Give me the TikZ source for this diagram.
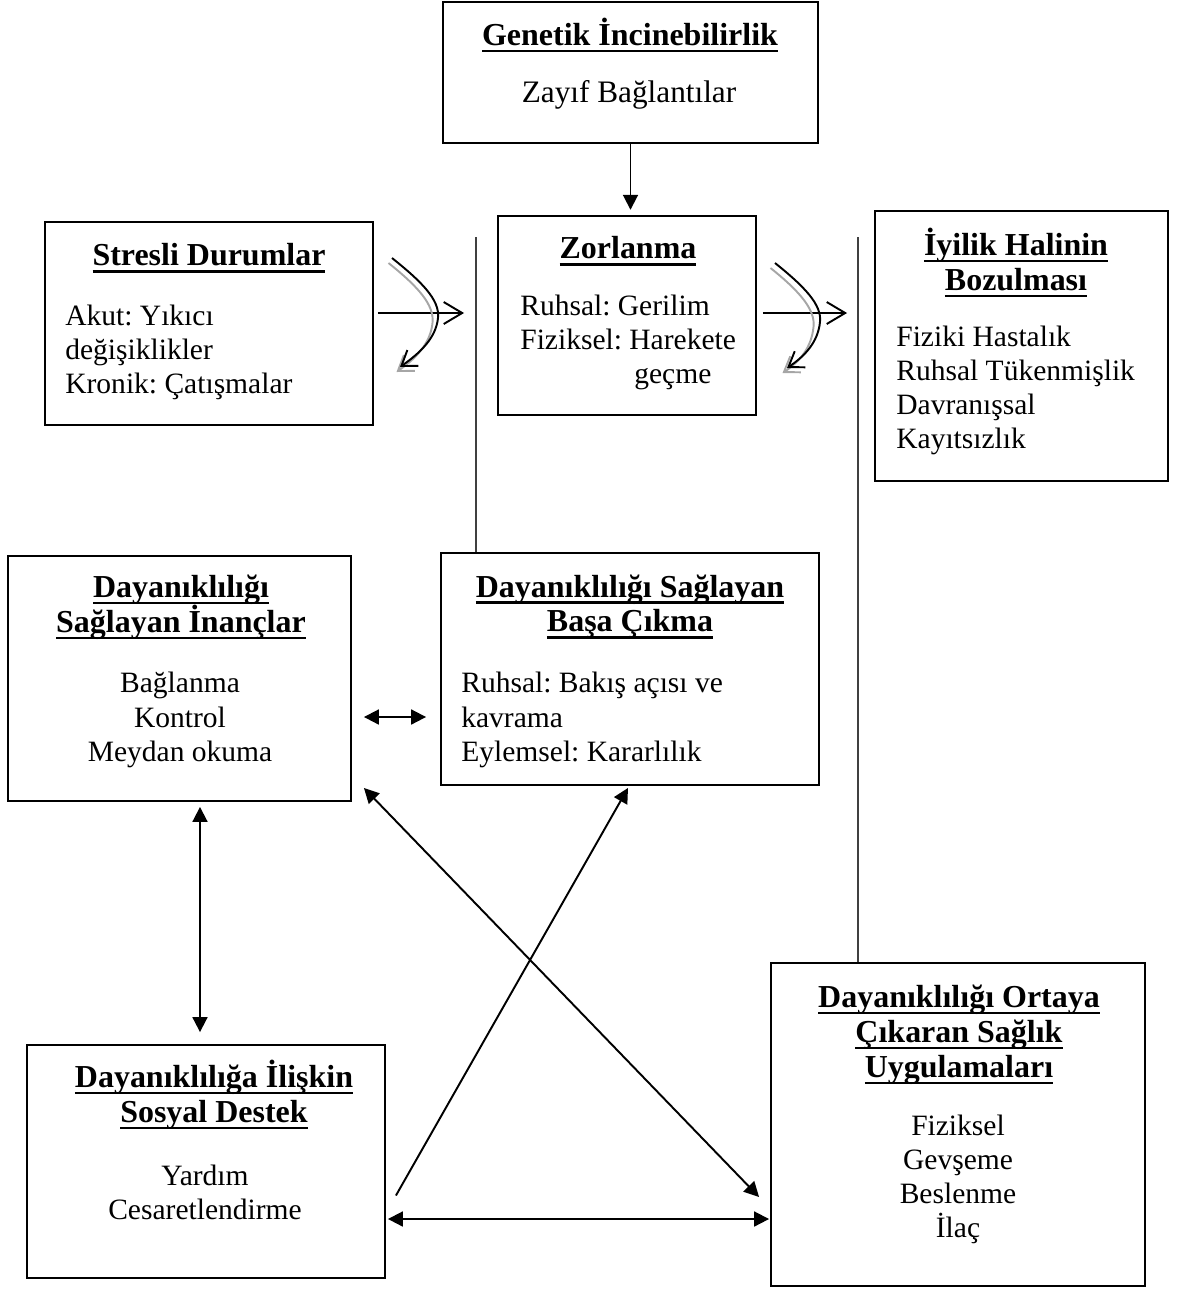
\documentclass[tikz,border=0pt]{standalone}
\usepackage{fontspec}
\setmainfont{Liberation Serif}
\usepackage{tikz}
\usetikzlibrary{arrows.meta,calc}
\frenchspacing
\newcommand{\uln}[1]{\setbox0\hbox{#1}\rlap{\smash{\rule[-3.8pt]{\wd0}{1.5pt}}}\box0}
\tikzstyle{block} = [draw, line width=1.1pt, rectangle, inner sep=0pt]
\tikzstyle{heading} = [align=center, inner sep=0pt, font=\fontsize{18.2}{19.9}\selectfont\bfseries]
\tikzstyle{body} = [align=left, inner sep=0pt, font=\fontsize{16.8}{19.4}\selectfont]
\tikzstyle{cbody} = [align=center, inner sep=0pt, font=\fontsize{16.8}{19.4}\selectfont]
\tikzstyle{arrow} = [line width=1.1pt, -{Triangle[length=8.5pt,width=8.5pt]}]
\tikzstyle{twoway} = [line width=1.1pt, {Triangle[length=8.5pt,width=8.5pt]}-{Triangle[length=8.5pt,width=8.5pt]}]
\tikzstyle{openarrow} = [line width=1.1pt, -{Straight Barb[length=10.5pt,width=12.5pt]}]
\tikzstyle{curlyarrow} = [line width=1.1pt, -{Straight Barb[length=8pt,width=11pt]}]
\tikzstyle{divider} = [line width=0.7pt, black!75]

\begin{document}
\begin{tikzpicture}[x=0.02cm, y=-0.02cm]
    \useasboundingbox (0,0) rectangle (1184,1296);

    % boxes
    \node[block, minimum width=7.5cm, minimum height=2.82cm] (gen) at (630.5,72.5) {};
    \node[block, minimum width=6.56cm, minimum height=4.06cm] (str) at (209,323.5) {};
    \node[block, minimum width=5.16cm, minimum height=3.98cm] (zor) at (627,315.5) {};
    \node[block, minimum width=5.86cm, minimum height=5.4cm] (iyi) at (1021.5,346) {};
    \node[block, minimum width=6.86cm, minimum height=4.9cm] (ina) at (179.5,678.5) {};
    \node[block, minimum width=7.56cm, minimum height=4.64cm] (bas) at (630,669) {};
    \node[block, minimum width=7.16cm, minimum height=4.66cm] (sos) at (206,1161.5) {};
    \node[block, minimum width=7.48cm, minimum height=6.46cm] (sag) at (958,1124.5) {};

    % texts
    \node[heading] (gen-t) at (630,32) {\uln{Genetik İncinebilirlik}};
    \node[cbody, font=\fontsize{17.8}{19.4}\selectfont] (gen-b) at (629,95) {Zayıf Bağlantılar};
    \node[heading] (str-t) at (209,255) {\uln{Stresli Durumlar}};
    \node[body, anchor=west] (str-b) at (65,352) {Akut: Yıkıcı\\değişiklikler\\Kronik: Çatışmalar};
    \node[heading] (zor-t) at (628,248) {\uln{Zorlanma}};
    \node[body, anchor=west] (zor-b) at (520,342.5) {Ruhsal: Gerilim\\Fiziksel: Harekete\\\hspace*{2.28cm}geçme};
    \node[heading] (iyi-t) at (1016,259.5) {\uln{İyilik Halinin}\\\uln{Bozulması}};
    \node[body, anchor=west] (iyi-b) at (896,390.5) {Fiziki Hastalık\\Ruhsal Tükenmişlik\\Davranışsal\\Kayıtsızlık};
    \node[heading] (ina-t) at (181,607.5) {\uln{Dayanıklılığı}\\\uln{Sağlayan İnançlar}};
    \node[cbody] (ina-b) at (180,720) {Bağlanma\\Kontrol\\Meydan okuma};
    \node[heading] (bas-t) at (630,606.5) {\uln{Dayanıklılığı Sağlayan}\\\uln{Başa Çıkma}};
    \node[body, anchor=west] (bas-b) at (461,720) {Ruhsal: Bakış açısı ve\\kavrama\\Eylemsel: Kararlılık};
    \node[heading] (sos-t) at (214,1095) {\uln{Dayanıklılığa İlişkin}\\\uln{Sosyal Destek}};
    \node[cbody] (sos-b) at (205,1192) {Yardım\\Cesaretlendirme};
    \node[heading] (sag-t) at (959,1035) {\uln{Dayanıklılığı Ortaya}\\\uln{Çıkaran Sağlık}\\\uln{Uygulamaları}};
    \node[cbody] (sag-b) at (958,1179.5) {Fiziksel\\Gevşeme\\Beslenme\\İlaç};

    % thin dividers
    \draw[divider] (476,237) -- (bas.north -| 476,0);
    \draw[divider] (858,237) -- (sag.north -| 858,0);

    % connectors
    \draw[arrow, shorten >=3pt] (gen.south) -- (gen.south |- zor.north);
    \draw[openarrow, shorten <=0.08cm, shorten >=0.66cm] (str.east |- 0,313) -- (zor.west |- 0,313);
    \draw[openarrow, shorten <=0.12cm, shorten >=0.54cm] (zor.east |- 0,313) -- (iyi.west |- 0,313);
    \draw[twoway, shorten <=0.24cm, shorten >=0.28cm] (ina.east |- 0,717) -- (bas.west |- 0,717);
    \draw[twoway, shorten <=0.1cm, shorten >=0.24cm] ([xshift=0.41cm]ina.south) -- ([xshift=0.41cm]ina.south |- sos.north);
    \draw[arrow] ($(sos.east)+(10,34)$) -- ($(bas.south)+(-2,2)$);
    \draw[twoway] ($(ina.south east)+(12,-14)$) -- ($(sag.west)+(-11,72.5)$);
    \draw[twoway, shorten <=0.04cm, shorten >=0.02cm] (sos.east |- 0,1219) -- (sag.west |- 0,1219);

    % curved arrows
    \draw[curlyarrow, gray!70, xshift=-0.07cm, yshift=-0.1cm] (392,258) .. controls (422,282) and (438,300) .. (436,318) .. controls (434,338) and (420,353) .. (400,367);
    \draw[curlyarrow] (392,258) .. controls (422,282) and (440,300) .. (438,318) .. controls (436,338) and (420,353) .. (400,367);
    \draw[curlyarrow, gray!70, xshift=-0.09cm, yshift=-0.1cm] (775,263) .. controls (805,287) and (820,305) .. (818,322) .. controls (816,342) and (805,356) .. (787,368);
    \draw[curlyarrow] (775,263) .. controls (805,287) and (822,305) .. (820,322) .. controls (818,342) and (805,356) .. (787,368);
\end{tikzpicture}
\end{document}
